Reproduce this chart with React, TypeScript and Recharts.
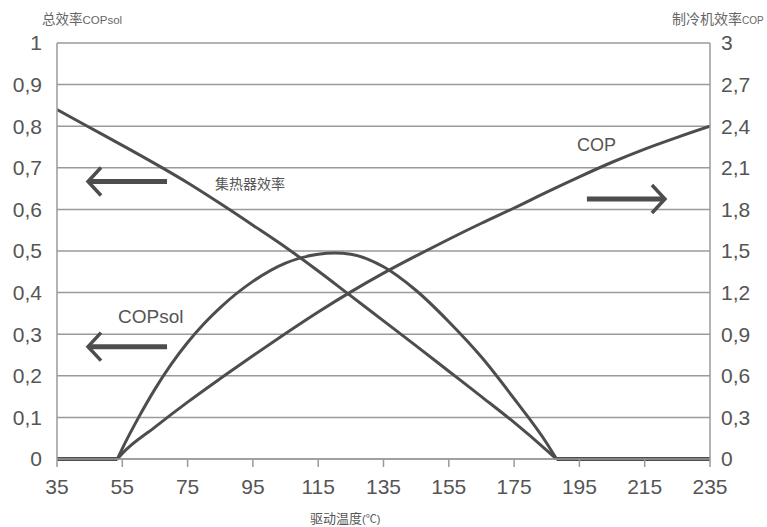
import React from "react";
import { LineChart, Line, XAxis, YAxis, CartesianGrid, ReferenceLine } from "recharts";

// Driving temperature ticks
const xTicks = [35, 55, 75, 95, 115, 135, 155, 175, 195, 215, 235];
const leftTicks = [0, 0.1, 0.2, 0.3, 0.4, 0.5, 0.6, 0.7, 0.8, 0.9, 1];
const rightTicks = [0, 0.3, 0.6, 0.9, 1.2, 1.5, 1.8, 2.1, 2.4, 2.7, 3];

// Collector efficiency (left axis)
const collectorX = [35, 45, 55, 65, 75, 85, 95, 105, 115, 125, 135, 145, 155, 165, 175, 185, 188];
const collectorEff = [0.84, 0.797, 0.754, 0.71, 0.664, 0.614, 0.562, 0.509, 0.452, 0.392, 0.332, 0.272, 0.211, 0.15, 0.088, 0.021, 0];

// Chiller COP (right axis)
const copX = [53.5, 55, 65, 75, 85, 95, 105, 115, 125, 135, 145, 155, 165, 175, 185, 195, 205, 215, 225, 235];
const copValues = [0, 0.04, 0.23, 0.41, 0.58, 0.745, 0.905, 1.06, 1.205, 1.34, 1.465, 1.585, 1.7, 1.81, 1.925, 2.035, 2.14, 2.235, 2.32, 2.4];

// Total efficiency COPsol (left axis)
const copsolX = [53.5, 55, 60, 65, 70, 75, 80, 85, 95, 105, 115, 120, 125, 135, 145, 155, 165, 175, 185, 188];
const copsolValues = [0, 0.025, 0.1, 0.168, 0.228, 0.28, 0.325, 0.364, 0.427, 0.471, 0.492, 0.495, 0.492, 0.462, 0.405, 0.33, 0.245, 0.145, 0.038, 0];

// Idle ranges where COP / COPsol are zero
const idleLowX = [35, 53.5];
const idleHighX = [188, 235];
const idleValues = [0, 0];

const toData = (xs: number[], ys: number[]) => xs.map((x, i) => ({ x, y: ys[i] }));
const collectorData = toData(collectorX, collectorEff);
const copData = toData(copX, copValues);
const copsolData = toData(copsolX, copsolValues);
const idleLowData = toData(idleLowX, idleValues);
const idleHighData = toData(idleHighX, idleValues);

// Annotation arrows (data coordinates, left axis)
const arrowCollector = [{ x: 68.7, y: 0.667 }, { x: 44.5, y: 0.667 }];
const arrowCopsol = [{ x: 68.7, y: 0.27 }, { x: 44.5, y: 0.27 }];
const arrowCop = [{ x: 197.3, y: 0.625 }, { x: 221.2, y: 0.625 }];

const LINE = "#4d4d4d";
const GRID = "#9a9a9a";
const TEXT = "#555";

const fmt = (v: number) => String(v).replace(".", ",");

const ArrowShape = (props: any) => {
  const { x1, y1, x2, y2 } = props;
  if ([x1, y1, x2, y2].some((v) => typeof v !== "number" || isNaN(v))) return null;
  const dir = x2 > x1 ? 1 : -1;
  const back = 13;
  const spread = 14;
  return (
    <g>
      <line x1={x1} y1={y1} x2={x2 - dir * 2} y2={y2} stroke={LINE} strokeWidth={5} />
      <path
        d={`M ${x2 - dir * back} ${y2 - spread} L ${x2} ${y2} L ${x2 - dir * back} ${y2 + spread}`}
        fill="none"
        stroke={LINE}
        strokeWidth={3.5}
      />
    </g>
  );
};

const textBase: React.CSSProperties = {
  position: "absolute",
  whiteSpace: "nowrap",
  color: TEXT,
  fontFamily: "'Liberation Sans', Arial, 'Noto Sans CJK SC', sans-serif",
};
const cjk = "'Noto Sans CJK SC', 'Liberation Sans', sans-serif";
const tickFont = { fill: TEXT, fontSize: 21, fontFamily: "'Liberation Sans', Arial, sans-serif" };

export default function App() {
  return (
    <div style={{ position: "absolute", left: 0, top: 0, width: 767, height: 527, background: "#fff" }}>
      <LineChart width={767} height={527} margin={{ top: 43, right: 0, left: 0, bottom: 28 }}>
        <CartesianGrid vertical={false} stroke={GRID} strokeWidth={1.5} yAxisId="left" />
        <XAxis
          dataKey="x"
          type="number"
          domain={[35, 235]}
          ticks={xTicks}
          allowDataOverflow
          height={40}
          stroke={GRID}
          strokeWidth={1.5}
          tickSize={8}
          tickMargin={12}
          tick={tickFont}
        />
        <YAxis
          yAxisId="left"
          orientation="left"
          domain={[0, 1]}
          ticks={leftTicks}
          width={57}
          stroke={GRID}
          strokeWidth={1.5}
          tickLine={false}
          tickSize={6}
          tickMargin={9}
          tickFormatter={fmt}
          tick={tickFont}
        />
        <YAxis
          yAxisId="right"
          orientation="right"
          domain={[0, 3]}
          ticks={rightTicks}
          width={57}
          stroke={GRID}
          strokeWidth={1.5}
          tickLine={false}
          tickSize={6}
          tickMargin={5}
          tickFormatter={fmt}
          tick={{ ...tickFont, textAnchor: "start" }}
        />
        <Line yAxisId="left" data={idleLowData} dataKey="y" type="linear" stroke={LINE} strokeWidth={4} dot={false} isAnimationActive={false} />
        <Line yAxisId="left" data={idleHighData} dataKey="y" type="linear" stroke={LINE} strokeWidth={4} dot={false} isAnimationActive={false} />
        <Line yAxisId="left" data={collectorData} dataKey="y" type="monotone" stroke={LINE} strokeWidth={3} dot={false} isAnimationActive={false} />
        <Line yAxisId="right" data={copData} dataKey="y" type="monotone" stroke={LINE} strokeWidth={3} dot={false} isAnimationActive={false} />
        <Line yAxisId="left" data={copsolData} dataKey="y" type="monotone" stroke={LINE} strokeWidth={3} dot={false} isAnimationActive={false} />
        <ReferenceLine yAxisId="left" segment={arrowCollector} shape={ArrowShape} />
        <ReferenceLine yAxisId="left" segment={arrowCopsol} shape={ArrowShape} />
        <ReferenceLine yAxisId="left" segment={arrowCop} shape={ArrowShape} />
      </LineChart>

      <div style={{ ...textBase, left: 42, top: 9, lineHeight: "18px", color: "#666" }}>
        <span style={{ fontFamily: cjk, fontSize: 13.5 }}>总效率</span>
        <span style={{ fontSize: 11.5 }}>COPsol</span>
      </div>
      <div style={{ ...textBase, left: 672, top: 9, lineHeight: "18px", color: "#666" }}>
        <span style={{ fontFamily: cjk, fontSize: 14 }}>制冷机效率</span>
        <span style={{ fontSize: 10 }}>COP</span>
      </div>
      <div style={{ ...textBase, left: 310, top: 508, lineHeight: "20px", color: "#555" }}>
        <span style={{ fontFamily: cjk, fontSize: 13 }}>驱动温度</span>
        <span style={{ fontSize: 11 }}>(℃)</span>
      </div>
      <div style={{ ...textBase, left: 215, top: 173, lineHeight: "20px", fontFamily: cjk, fontSize: 14, color: "#555" }}>
        集热器效率
      </div>
      <div style={{ ...textBase, left: 577, top: 134, lineHeight: "22px", fontSize: 18 }}>COP</div>
      <div style={{ ...textBase, left: 118, top: 306, lineHeight: "22px", fontSize: 19 }}>COPsol</div>
    </div>
  );
}
